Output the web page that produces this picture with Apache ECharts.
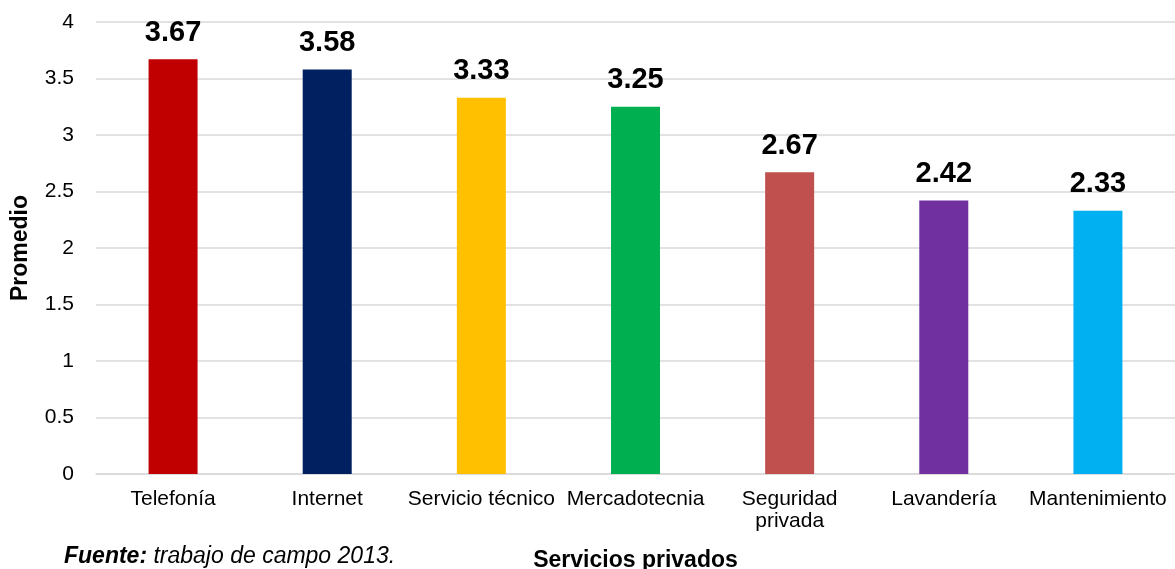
<!DOCTYPE html>
<html>
<head>
<meta charset="utf-8">
<script src="https://cdn.jsdelivr.net/npm/echarts@6/dist/echarts.min.js"></script>
<style>
    html, body { margin: 0; padding: 0; background: #fff; }
    #chart { width: 1175px; height: 569px; }
</style>
</head>
<body>
<div id="chart"></div>
<script>
// categorias y promedios
var categories = ['Telefonía', 'Internet', 'Servicio técnico', 'Mercadotecnia', 'Seguridad\nprivada', 'Lavandería', 'Mantenimiento'];
var promedios = [3.67, 3.58, 3.33, 3.25, 2.67, 2.42, 2.33];
var barColors = ['#C00000', '#002060', '#FFC000', '#00B050', '#C0504D', '#7030A0', '#00B0F0'];

var font = 'Liberation Sans, Arial, sans-serif';
var myChart = echarts.init(document.getElementById('chart'));

var option = {
    animation: false,
    textStyle: { fontFamily: font, color: '#000' },
    grid: {
        left: 96,
        right: 0,
        top: 22,
        bottom: 95,
        containLabel: false,
        outerBoundsMode: 'none'
    },
    xAxis: {
        type: 'category',
        data: categories,
        name: 'Servicios privados',
        nameLocation: 'middle',
        nameGap: 75,
        nameTextStyle: { fontFamily: font, fontWeight: 'bold', fontSize: 23, color: '#000' },
        axisLine: { lineStyle: { color: '#d9d9d9', width: 1.5 } },
        axisTick: { show: false },
        axisLabel: {
            fontFamily: font,
            fontSize: 21,
            color: '#000',
            margin: 14,
            lineHeight: 22,
            interval: 0
        }
    },
    yAxis: {
        type: 'value',
        min: 0,
        max: 4,
        interval: 0.5,
        name: 'Promedio',
        nameLocation: 'middle',
        nameGap: 64,
        nameRotate: 90,
        nameTextStyle: { fontFamily: font, fontWeight: 'bold', fontSize: 23, color: '#000' },
        axisLine: { show: false },
        axisTick: { show: false },
        axisLabel: { fontFamily: font, fontSize: 21, color: '#000', margin: 22 },
        splitLine: { lineStyle: { color: '#d9d9d9', width: 1.5 } }
    },
    series: [{
        type: 'bar',
        barWidth: 49,
        data: promedios.map(function (v, i) {
            return { value: v, itemStyle: { color: barColors[i] } };
        }),
        label: {
            show: true,
            position: 'top',
            distance: 12,
            fontFamily: font,
            fontWeight: 'bold',
            fontSize: 29,
            color: '#000'
        }
    }],
    graphic: [{
        type: 'text',
        left: 64,
        top: 545,
        style: {
            text: '{b|Fuente:} trabajo de campo 2013.',
            font: 'italic 23px ' + font,
            fill: '#000',
            rich: {
                b: { fontWeight: 'bold', fontStyle: 'italic', fontSize: 23, fontFamily: font }
            }
        }
    }]
};

window.onresize = myChart.resize;
myChart.setOption(option);
</script>
</body>
</html>
